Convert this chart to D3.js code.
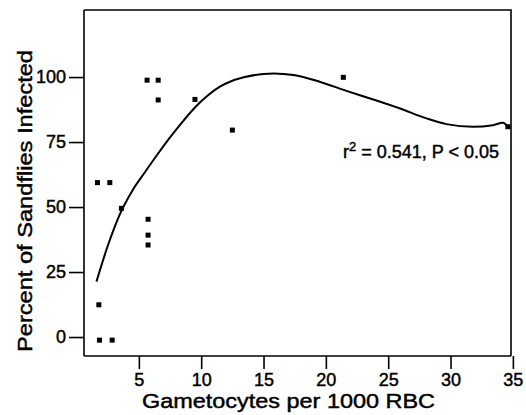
<!DOCTYPE html>
<html>
<head>
<meta charset="utf-8">
<script src="https://cdn.jsdelivr.net/npm/d3@7"></script>
<style>
  body { margin: 0; background: #fff; }
  text { font-family: "Liberation Sans", Arial, Helvetica, sans-serif; fill: #000; stroke: #000; stroke-width: 0.45px; }
</style>
</head>
<body>
<svg id="chart" width="526" height="415"></svg>
<script>
// Observed data points: gametocytes per 1000 RBC vs percent of sandflies infected
const gametocytes = [1.68, 2.67, 3.6, 5.66, 6.55, 6.55, 9.5, 12.5, 21.4, 34.6, 5.74, 5.74, 5.74, 1.79, 1.84, 2.86];
const percentInfected = [59.4, 59.4, 49.5, 98.8, 98.8, 91.2, 91.4, 79.6, 99.9, 80.9, 45.3, 39.2, 35.4, 12.4, -1.2, -1.2];

// Fitted curve
const fitX = [1.6, 2.5, 3.5, 4.5, 5.5, 6.5, 7.5, 8.5, 9.5, 10.5, 11.5, 12.5, 13.5, 15.0, 15.8, 17.4, 19.5, 21.65, 23.8, 25.9, 28.07, 29.67, 31.8, 33.4, 34.2, 34.6];
const fitY = [21.3, 35.0, 47.5, 56.5, 63.5, 70.3, 76.8, 82.8, 88.3, 92.8, 96.3, 98.6, 100.0, 101.2, 101.4, 100.8, 98.2, 94.7, 91.4, 88, 84.1, 81.9, 80.9, 81.5, 82.4, 80.9];

const xTicks = [5, 10, 15, 20, 25, 30, 35];
const yTicks = [0, 25, 50, 75, 100];
const xTitle = "Gametocytes per 1000 RBC";
const yTitle = "Percent of Sandflies Infected";
const statText = { base: "r", sup: "2", rest: " = 0.541, P < 0.05" };

const svg = d3.select("#chart");
const L = 84, R = 511, T = 10, B = 356;

const x = d3.scaleLinear().domain([0.6, 34.85]).range([L, R]);
const y = d3.scaleLinear().domain([-7.3, 125.8]).range([B, T]);

// Frame (top and right)
svg.append("path")
  .attr("d", `M${L},${T}H${R}V${B}`)
  .attr("fill", "none").attr("stroke", "#000").attr("stroke-width", 1.6);

// Axes
const xAxis = svg.append("g").attr("transform", `translate(0,${B})`)
  .call(d3.axisBottom(x).tickValues(xTicks).tickSize(13).tickPadding(4).tickFormat(d3.format("d")));
const yAxis = svg.append("g").attr("transform", `translate(${L},0)`)
  .call(d3.axisLeft(y).tickValues(yTicks).tickSize(15).tickPadding(3).tickFormat(d3.format("d")));

[xAxis, yAxis].forEach(g => {
  g.select(".domain").attr("stroke", "#000").attr("stroke-width", 1.6);
  g.selectAll(".tick line").attr("stroke", "#000").attr("stroke-width", 1.6);
  g.selectAll(".tick text").attr("fill", "#000").style("font-size", "18px")
    .style("font-family", "'Liberation Sans', Arial, sans-serif");
});
yAxis.select(".domain").attr("d", `M0,${T}V${B}`);
xAxis.select(".domain").attr("d", `M${L},0H${R}`);

// Fitted curve
const pts = fitX.map((v, i) => [v, fitY[i]]);
svg.append("path")
  .datum(pts)
  .attr("fill", "none").attr("stroke", "#000").attr("stroke-width", 2)
  .attr("d", d3.line().x(d => x(d[0])).y(d => y(d[1])).curve(d3.curveMonotoneX));

// Data points
svg.append("g").selectAll("rect")
  .data(gametocytes.map((v, i) => [v, percentInfected[i]]))
  .join("rect")
  .attr("x", d => x(d[0]) - 2.5).attr("y", d => y(d[1]) - 2.5)
  .attr("width", 5).attr("height", 5).attr("fill", "#000");

// Stat label
const st = svg.append("text").attr("x", 343).attr("y", 158).style("font-size", "18px");
st.append("tspan").text(statText.base);
st.append("tspan").attr("dy", -7).style("font-size", "13px").text(statText.sup);
st.append("tspan").attr("dy", 7).text(statText.rest);

// Axis titles
svg.append("text")
  .attr("x", 142).attr("y", 408)
  .attr("textLength", 293).attr("lengthAdjust", "spacingAndGlyphs")
  .style("font-size", "20px").text(xTitle);

svg.append("text")
  .attr("transform", "translate(32,352) rotate(-90)")
  .attr("x", 0).attr("y", 0)
  .attr("textLength", 302).attr("lengthAdjust", "spacingAndGlyphs")
  .style("font-size", "20px").text(yTitle);
</script>
</body>
</html>
